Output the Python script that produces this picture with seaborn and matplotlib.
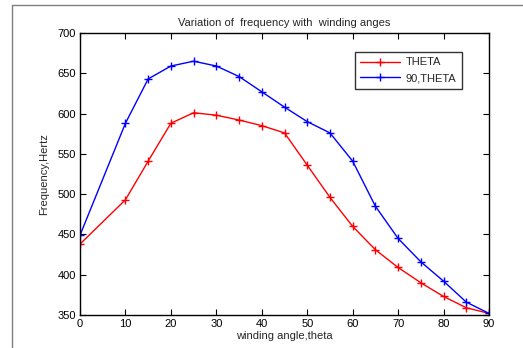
import matplotlib
matplotlib.use("Agg")
import matplotlib.pyplot as plt
from matplotlib.lines import Line2D
import seaborn as sns
import pandas as pd

angles = [0, 10, 15, 20, 25, 30, 35, 40, 45, 50, 55, 60, 65, 70, 75, 80, 85, 90]
theta = [438, 493, 541, 588, 601, 598, 592, 585, 576, 536, 496, 460, 431, 409, 390, 373, 359, 352]
theta90 = [449, 588, 643, 659, 665, 659, 646, 627, 608, 590, 576, 541, 485, 445, 416, 392, 366, 352]
series_names = ["THETA", "90,THETA"]
xticks = [0, 10, 20, 30, 40, 50, 60, 70, 80, 90]
yticks = [350, 400, 450, 500, 550, 600, 650, 700]

df = pd.DataFrame({
    "angle": angles * 2,
    "freq": theta + theta90,
    "series": [series_names[0]] * len(angles) + [series_names[1]] * len(angles),
})

sns.set_style("white")
plt.rcParams["font.family"] = ["Liberation Sans", "DejaVu Sans"]

fig = plt.figure(figsize=(5.23, 3.48), dpi=100)
ax = fig.add_axes([80 / 523, 33 / 348, 409 / 523, 282 / 348])

sns.lineplot(data=df, x="angle", y="freq", hue="series",
             palette={"THETA": "#ff0000", "90,THETA": "#0000ff"},
             marker="+", markersize=6, markeredgewidth=1.0, linewidth=1.0,
             ax=ax, legend=False)
for ln in ax.lines:
    ln.set_markeredgecolor(ln.get_color())
    ln.set_markerfacecolor(ln.get_color())

ax.set_xlim(0, 90)
ax.set_ylim(350, 700)
ax.set_xticks(xticks)
ax.set_yticks(yticks)
ax.tick_params(direction="in", length=4, width=0.8, labelsize=8,
               top=True, right=True, bottom=True, left=True, colors="black",
               pad=3)
for s in ax.spines.values():
    s.set_visible(True)
    s.set_color("black")
    s.set_linewidth(1.0)

ax.set_title("Variation of  frequency with  winding anges", fontsize=8, pad=5)
ax.set_xlabel("winding angle,theta", fontsize=8, labelpad=1)
ax.set_ylabel("Frequency,Hertz", fontsize=8, labelpad=6)

handles = [Line2D([0], [0], color="#ff0000", marker="+", markersize=6, lw=1.0),
           Line2D([0], [0], color="#0000ff", marker="+", markersize=6, lw=1.0)]
leg = ax.legend(handles, series_names, loc="upper right",
                bbox_to_anchor=(0.934, 0.933), borderaxespad=0, fontsize=8,
                frameon=True, fancybox=False, edgecolor="black", handlelength=3.6,
                borderpad=0.5, labelspacing=0.5, handletextpad=0.5)
leg.get_frame().set_linewidth(1.0)

fig.add_artist(Line2D([12 / 523, 12 / 523], [0, 1 - 5 / 348], transform=fig.transFigure,
                      color="#808080", lw=1.0))
fig.add_artist(Line2D([12 / 523, 1], [1 - 5 / 348, 1 - 5 / 348], transform=fig.transFigure,
                      color="#808080", lw=1.0))

fig.savefig("out.png", dpi=100)
